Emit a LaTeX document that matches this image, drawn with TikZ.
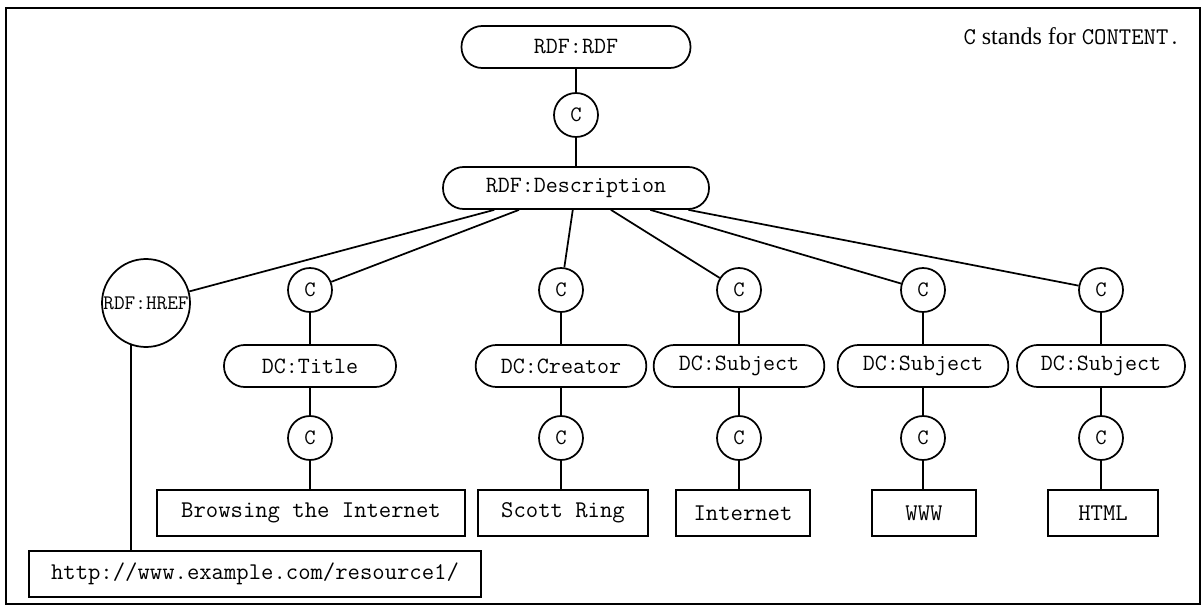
\documentclass[tikz,border=0pt]{standalone}
\usepackage{fontspec}
\setmainfont{Liberation Serif}
\usetikzlibrary{positioning}

\tikzset{
  tagnode/.style={draw, line width=1.3pt, rounded corners=15.5pt, minimum height=31.5pt, inner sep=0pt, font=\ttfamily\fontsize{17.5}{20}\selectfont},
  cnode/.style={draw, circle, line width=1.3pt, minimum size=33pt, inner sep=0pt, font=\ttfamily\fontsize{16.5}{18}\selectfont},
  valnode/.style={draw, rectangle, line width=1.3pt, minimum height=35pt, inner sep=0pt, font=\ttfamily\fontsize{18}{20}\selectfont},
  link/.style={line width=1.3pt}
}

\begin{document}
\begin{tikzpicture}[x=0.75pt,y=0.75pt,yscale=-1,xscale=1]
\useasboundingbox (0,0) rectangle (1204,610);

%Frame
\draw [line width=1.3pt] (6,8) rectangle (1200,604);

% Text Node
\node (note) [anchor=east, inner sep=0pt, font=\fontsize{18}{20}\selectfont] at (1181,36) {\texttt{C} stands for \texttt{CONTENT.}};

%Root and description
\node (rdf) [tagnode, minimum width=171.75pt] at (576,47) {RDF:RDF};
\node (c0) [cnode] at (576,115) {C};
\node (desc) [tagnode, minimum width=199.5pt] at (576,188) {RDF:Description};

%Second row
\node (href) [draw, circle, line width=1.3pt, minimum size=66pt, inner sep=0pt, font=\ttfamily\fontsize{15.5}{17}\selectfont] at (146,303) {RDF:HREF};
\node (ct) [cnode] at (310,290) {C};
\node (cc) [cnode] at (561,290) {C};
\node (csa) [cnode] at (739,290) {C};
\node (csb) [cnode] at (923,290) {C};
\node (csc) [cnode] at (1101,290) {C};

%Element row
\node (title) [tagnode, minimum width=129pt] at (310,366) {DC:Title};
\node (creator) [tagnode, minimum width=128pt] at (561,366) {DC:Creator};
\node (subja) [tagnode, minimum width=128pt] at (739,366) {DC:Subject};
\node (subjb) [tagnode, minimum width=128pt] at (923,366) {DC:Subject};
\node (subjc) [tagnode, minimum width=126pt] at (1101,366) {DC:Subject};

%Content row
\node (vt) [cnode] at (310,438) {C};
\node (vc) [cnode] at (561,438) {C};
\node (vsa) [cnode] at (739,438) {C};
\node (vsb) [cnode] at (923,438) {C};
\node (vsc) [cnode] at (1101,438) {C};

%Values
\node (browsing) [valnode, minimum width=231pt] at (311,513) {Browsing the Internet};
\node (scott) [valnode, minimum width=127.5pt] at (563,513) {Scott Ring};
\node (internet) [valnode, minimum width=101pt] at (743,513) {Internet};
\node (www) [valnode, minimum width=78pt] at (924,513) {WWW};
\node (html) [valnode, minimum width=82pt] at (1103,513) {HTML};
\node (url) [valnode, minimum width=339pt, minimum height=34.5pt] at (255,574) {http://www.example.com/resource1/};

%Connectors
\draw [link] (rdf) -- (c0);
\draw [link] (c0) -- (desc);
\draw [link] (desc) -- (href);
\draw [link] (desc) -- (ct);
\draw [link] (desc) -- (cc);
\draw [link] (desc) -- (csa);
\draw [link] (desc) -- (csb);
\draw [link] (desc) -- (csc);
\draw [link] (href.250) -- (href.250 |- url.north);

\draw [link] (ct) -- (title);
\draw [link] (cc) -- (creator);
\draw [link] (csa) -- (subja);
\draw [link] (csb) -- (subjb);
\draw [link] (csc) -- (subjc);

\draw [link] (title) -- (vt);
\draw [link] (creator) -- (vc);
\draw [link] (subja) -- (vsa);
\draw [link] (subjb) -- (vsb);
\draw [link] (subjc) -- (vsc);

\draw [link] (vt) -- (vt |- browsing.north);
\draw [link] (vc) -- (vc |- scott.north);
\draw [link] (vsa) -- (vsa |- internet.north);
\draw [link] (vsb) -- (vsb |- www.north);
\draw [link] (vsc) -- (vsc |- html.north);

\end{tikzpicture}
\end{document}
